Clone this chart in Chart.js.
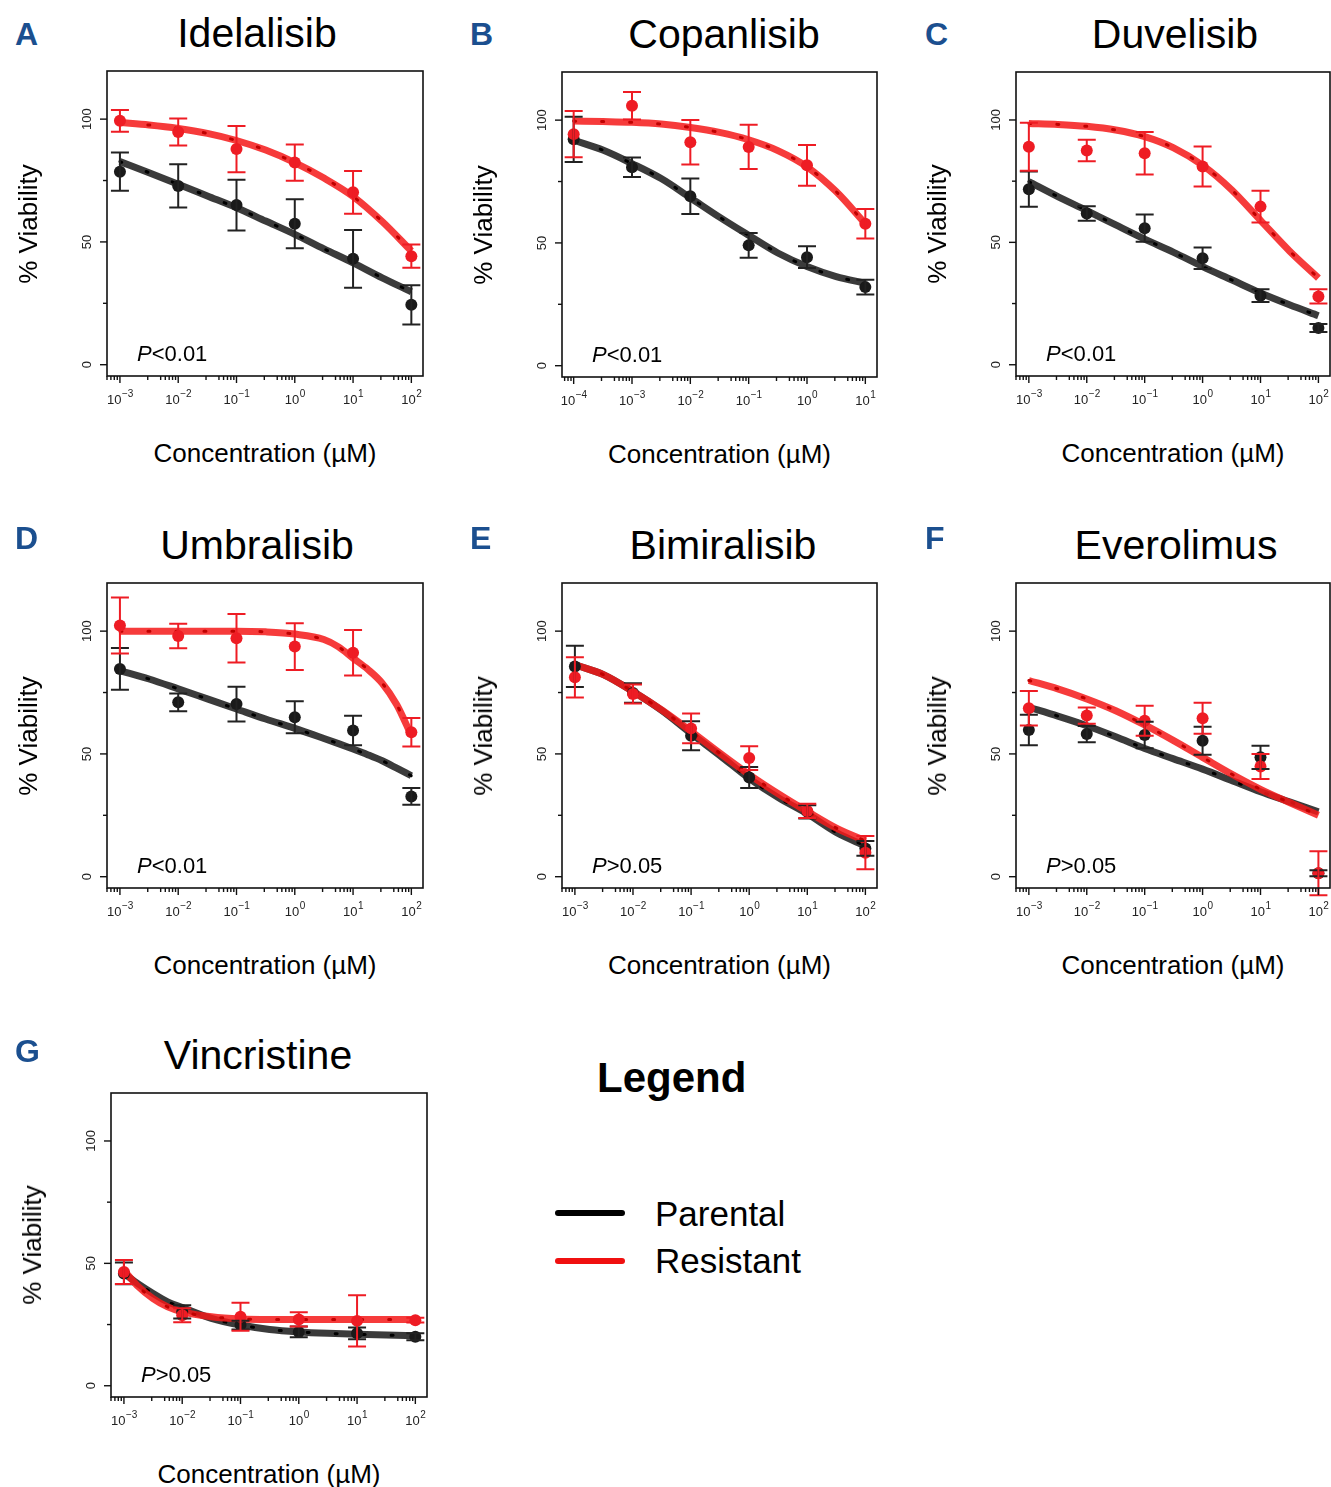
<!DOCTYPE html>
<html>
<head>
<meta charset="utf-8">
<script src="https://cdn.jsdelivr.net/npm/chart.js@4/dist/chart.umd.min.js"></script>
<style>
  body { margin: 0; width: 1331px; height: 1487px; overflow: hidden; background: #fff; position: relative;
         font-family: "Liberation Sans", Arial, sans-serif; color: #000; }
  canvas { position: absolute; }
  .t { position: absolute; white-space: nowrap; line-height: 1; }
</style>
</head>
<body>
<script>
// ---- data ----
const concStd = [0.001, 0.01, 0.1, 1, 10, 100];
const concB = [0.0001, 0.001, 0.01, 0.1, 1, 10];
const decStd = [-3, -2, -1, 0, 1, 2];
const decB = [-4, -3, -2, -1, 0, 1];
const minorMult = [3, 5, 6, 7, 8, 9];
const yTicks = [0, 25, 50, 75, 100];
const yLabels = ['0', '', '50', '', '100'];

const fitExp = [-3, -2.5, -2, -1.5, -1, -0.5, 0, 0.5, 1, 1.5, 2];
const fitExpB = [-4, -3.5, -3, -2.5, -2, -1.5, -1, -0.5, 0, 0.5, 1];
const fitExpD = [-3, -2.5, -2, -1.5, -1, -0.5, 0, 0.5, 0.75, 1, 1.25, 1.5, 1.75, 2];
const fitExpG = [-3, -2.75, -2.5, -2.25, -2, -1.5, -1, -0.5, 0, 0.5, 1, 1.5, 2];

// A Idelalisib
const parA = [78.6, 72.8, 65.0, 57.4, 43.1, 24.4];
const parErrA = [7.8, 8.8, 10.3, 10.0, 11.8, 8.0];
const resA = [99.3, 94.8, 87.8, 82.3, 70.2, 44.2];
const resErrA = [4.4, 5.5, 9.4, 7.4, 8.7, 4.7];
const fitParA = [82.7, 78.2, 73.5, 68.7, 63.9, 58.5, 53.1, 47.2, 41.5, 35.4, 29.7];
const fitResA = [98.6, 97.6, 96.2, 94.2, 91.3, 87.4, 82.3, 76.0, 68.5, 58.3, 46.3];

// B Copanlisib
const parB = [92.2, 80.8, 69.0, 49.0, 44.2, 32.0];
const parErrB = [9.2, 4.0, 7.2, 5.0, 4.4, 3.0];
const resB = [94.3, 105.9, 91.0, 89.1, 81.6, 57.8];
const resErrB = [9.4, 5.6, 9.1, 9.0, 8.3, 6.0];
const fitParB = [91.8, 87.8, 82.3, 76.2, 68.4, 60.5, 53.1, 45.9, 40.4, 36.3, 33.6];
const fitResB = [99.6, 99.4, 99.1, 98.4, 97.0, 95.0, 92.0, 87.6, 81.0, 70.9, 57.8];

// C Duvelisib
const parC = [71.7, 61.8, 55.8, 43.5, 28.2, 15.0];
const parErrC = [7.2, 3.0, 5.6, 4.4, 2.6, 1.6];
const resC = [89.1, 87.5, 86.4, 81.0, 64.6, 27.9];
const resErrC = [9.8, 4.4, 8.7, 8.2, 6.5, 2.9];
const fitParC = [74.8, 68.7, 63.0, 57.1, 51.3, 45.9, 40.1, 34.7, 29.3, 24.5, 20.0];
const fitResC = [98.6, 98.2, 97.4, 95.9, 93.2, 88.6, 81.5, 71.5, 59.0, 46.5, 35.4];

// D Umbralisib
const parD = [84.6, 71.0, 70.3, 64.9, 59.5, 32.7];
const parErrD = [8.5, 3.6, 7.1, 6.5, 6.0, 3.4];
const resD = [102.3, 98.0, 97.1, 93.7, 91.2, 58.8];
const resErrD = [11.4, 5.0, 9.9, 9.5, 9.3, 5.8];
const fitParD = [83.9, 80.5, 76.5, 72.4, 68.3, 64.2, 60.4, 56.3, 54.2, 52.0, 49.7, 47.2, 44.2, 41.1];
const fitResD = [100, 100, 100, 100, 100, 99.7, 98.8, 96.6, 93.6, 89.0, 84.5, 78.8, 70.0, 57.5];

// E Bimiralisib
const parE = [85.6, 74.8, 57.4, 40.4, 26.4, 11.5];
const parErrE = [8.4, 4.0, 5.9, 4.3, 2.7, 3.0];
const resE = [81.2, 74.4, 60.4, 48.3, 26.8, 9.8];
const resErrE = [8.2, 3.9, 6.1, 4.8, 2.9, 6.8];
const fitParE = [86.3, 82.2, 75.4, 67.6, 58.3, 49.3, 40.0, 32.2, 25.6, 18.0, 12.5];
const fitResE = [86.3, 82.2, 75.4, 67.8, 59.2, 50.2, 41.6, 33.8, 26.6, 19.8, 14.6];

// F Everolimus
const parF = [59.7, 58.1, 57.7, 55.4, 48.6, 1.4];
const parErrF = [6.2, 3.3, 5.4, 5.7, 4.7, 1.2];
const resF = [68.6, 65.6, 63.5, 64.5, 44.9, 1.4];
const resErrF = [7.0, 3.3, 6.1, 6.3, 5.1, 9.0];
const fitParF = [69.0, 65.4, 61.5, 57.0, 52.2, 48.0, 43.8, 39.2, 34.6, 30.5, 26.4];
const fitResF = [79.9, 76.5, 72.4, 67.6, 61.8, 55.4, 48.6, 41.8, 35.6, 30.2, 25.0];

// G Vincristine
const parG = [45.9, 30.2, 24.8, 22.0, 21.4, 20.0];
const parErrG = [4.4, 2.7, 1.8, 2.2, 2.4, 1.4];
const resG = [46.5, 28.8, 28.2, 27.1, 26.5, 26.8];
const resErrG = [4.9, 2.9, 5.7, 2.9, 10.5, 1.0];
const fitParG = [45.9, 41.5, 37.7, 34.3, 32.0, 27.5, 24.8, 23.0, 22.0, 21.4, 21.0, 20.7, 20.4];
const fitResG = [47.2, 40.4, 35.6, 32.2, 30.2, 28.2, 27.3, 27.1, 27.1, 27.1, 27.1, 27.1, 27.1];

// ---- layout ----
const panels = [
  { tag: 'A', name: 'Idelalisib', p: '<0.01', box: [107, 71, 423, 376], titleX: 257, letter: [15, 45],
    conc: concStd, dec: decStd, fx: fitExp, par: parA, parErr: parErrA, res: resA, resErr: resErrA, fitPar: fitParA, fitRes: fitResA },
  { tag: 'B', name: 'Copanlisib', p: '<0.01', box: [562, 72, 877, 377], titleX: 724, letter: [470, 45],
    conc: concB, dec: decB, fx: fitExpB, par: parB, parErr: parErrB, res: resB, resErr: resErrB, fitPar: fitParB, fitRes: fitResB },
  { tag: 'C', name: 'Duvelisib', p: '<0.01', box: [1016, 72, 1330, 376], titleX: 1175, letter: [925, 45],
    conc: concStd, dec: decStd, fx: fitExp, par: parC, parErr: parErrC, res: resC, resErr: resErrC, fitPar: fitParC, fitRes: fitResC },
  { tag: 'D', name: 'Umbralisib', p: '<0.01', box: [107, 583, 423, 888], titleX: 257, letter: [15, 549],
    conc: concStd, dec: decStd, fx: fitExpD, par: parD, parErr: parErrD, res: resD, resErr: resErrD, fitPar: fitParD, fitRes: fitResD },
  { tag: 'E', name: 'Bimiralisib', p: '>0.05', box: [562, 583, 877, 888], titleX: 723, letter: [470, 549],
    conc: concStd, dec: decStd, fx: fitExp, par: parE, parErr: parErrE, res: resE, resErr: resErrE, fitPar: fitParE, fitRes: fitResE },
  { tag: 'F', name: 'Everolimus', p: '>0.05', box: [1016, 583, 1330, 888], titleX: 1176, letter: [925, 549],
    conc: concStd, dec: decStd, fx: fitExp, par: parF, parErr: parErrF, res: resF, resErr: resErrF, fitPar: fitParF, fitRes: fitResF },
  { tag: 'G', name: 'Vincristine', p: '>0.05', box: [111, 1093, 427, 1397], titleX: 258, letter: [15, 1062],
    conc: concStd, dec: decStd, fx: fitExpG, par: parG, parErr: parErrG, res: resG, resErr: resErrG, fitPar: fitParG, fitRes: fitResG }
];

const RED = '#ee1c24';
const BLACK = '#1a1a1a';
const FONT = '"Liberation Sans", Arial, sans-serif';

// R-style box, ticks and error bars
const rAxes = {
  id: 'rAxes',
  afterDatasetsDraw(chart, args, opts) {
    const { ctx, scales: { x, y } } = chart;
    ctx.save();
    ctx.lineWidth = 2;
    opts.bars.forEach(b => {
      ctx.strokeStyle = b.color;
      b.xs.forEach((xv, i) => {
        const px = x.getPixelForValue(xv);
        const y1 = y.getPixelForValue(b.ys[i] + b.errs[i]);
        const y2 = y.getPixelForValue(b.ys[i] - b.errs[i]);
        ctx.beginPath();
        ctx.moveTo(px, y1); ctx.lineTo(px, y2);
        ctx.moveTo(px - 9, y1); ctx.lineTo(px + 9, y1);
        ctx.moveTo(px - 9, y2); ctx.lineTo(px + 9, y2);
        ctx.stroke();
      });
    });
    ctx.restore();
  },
  afterDraw(chart, args, opts) {
    const { ctx, chartArea: a, scales: { x, y } } = chart;
    ctx.save();
    ctx.strokeStyle = '#111';
    ctx.lineWidth = 1.6;
    ctx.strokeRect(a.left, a.top, a.right - a.left, a.bottom - a.top);
    ctx.lineWidth = 1.4;
    ctx.fillStyle = '#222';
    const lo = Math.floor(Math.log10(x.min)), hi = Math.ceil(Math.log10(x.max));
    for (let d = lo; d <= hi; d++) {
      [1].concat(opts.minor).forEach(m => {
        const v = m * Math.pow(10, d);
        if (v < x.min || v > x.max) return;
        const px = x.getPixelForValue(v);
        ctx.beginPath();
        ctx.moveTo(px, a.bottom);
        ctx.lineTo(px, a.bottom + (m === 1 ? 7 : 4));
        ctx.stroke();
      });
    }
    ctx.textAlign = 'left';
    ctx.textBaseline = 'alphabetic';
    opts.decades.forEach(d => {
      const px = x.getPixelForValue(Math.pow(10, d));
      const sup = d < 0 ? '\u2212' + (-d) : String(d);
      ctx.font = '13px ' + FONT;
      const w1 = ctx.measureText('10').width;
      ctx.font = '10px ' + FONT;
      const w2 = ctx.measureText(sup).width;
      const sx = px - (w1 + w2) / 2;
      ctx.font = '13px ' + FONT;
      ctx.fillText('10', sx, a.bottom + 28);
      ctx.font = '10px ' + FONT;
      ctx.fillText(sup, sx + w1 + 0.5, a.bottom + 21);
    });
    opts.yTicks.forEach((v, i) => {
      const py = y.getPixelForValue(v);
      const lab = opts.yLabels[i];
      ctx.beginPath();
      ctx.moveTo(a.left, py);
      ctx.lineTo(a.left - (lab ? 7 : 4), py);
      ctx.stroke();
      if (lab) {
        ctx.save();
        ctx.translate(a.left - 20, py);
        ctx.rotate(-Math.PI / 2);
        ctx.textAlign = 'center';
        ctx.textBaseline = 'middle';
        ctx.font = '13px ' + FONT;
        ctx.fillText(lab, 0, 0);
        ctx.restore();
      }
    });
    ctx.restore();
  }
};

function text(html, x, baseline, size, extra) {
  const d = document.createElement('div');
  d.className = 't';
  d.innerHTML = html;
  d.style.fontSize = size + 'px';
  d.style.left = x + 'px';
  d.style.top = (baseline - 0.8465 * size) + 'px';
  Object.assign(d.style, extra || {});
  document.body.appendChild(d);
  return d;
}

const pts = (xs, ys) => xs.map((v, i) => ({ x: v, y: ys[i] }));
const fit = (es, ys) => es.map((e, i) => ({ x: Math.pow(10, e), y: ys[i] }));

panels.forEach(p => {
  const [l, t, r, b] = p.box;
  const cv = document.createElement('canvas');
  cv.width = r - l + 80;
  cv.height = b - t + 50;
  cv.style.left = (l - 70) + 'px';
  cv.style.top = (t - 10) + 'px';
  document.body.appendChild(cv);

  const lo = p.dec[0], hi = p.dec[p.dec.length - 1];
  const curve = (data, color, w, order, dash) => ({
    type: 'scatter', data, showLine: true, pointRadius: 0, borderColor: color, borderWidth: w,
    cubicInterpolationMode: 'monotone', borderDash: dash || [], borderCapStyle: dash ? 'round' : 'butt', order
  });

  new Chart(cv, {
    type: 'scatter',
    data: {
      datasets: [
        { data: pts(p.conc, p.res), backgroundColor: RED, pointRadius: 6, pointBorderWidth: 0, order: 1 },
        { data: pts(p.conc, p.par), backgroundColor: BLACK, pointRadius: 6, pointBorderWidth: 0, order: 2 },
        curve(fit(p.fx, p.fitRes), '#c00000', 3, 3, [2, 26]),
        curve(fit(p.fx, p.fitRes), 'rgba(245,25,25,0.85)', 7, 4),
        curve(fit(p.fx, p.fitPar), '#000', 3, 5, [2, 26]),
        curve(fit(p.fx, p.fitPar), 'rgba(25,25,25,0.85)', 7, 6)
      ]
    },
    options: {
      responsive: false,
      animation: false,
      devicePixelRatio: 1,
      events: [],
      layout: { padding: { left: 70, top: 10, right: 10, bottom: 40 } },
      scales: {
        x: { type: 'logarithmic', min: Math.pow(10, lo - 0.2), max: Math.pow(10, hi + 0.2), display: false },
        y: { type: 'linear', min: -4.6, max: 119.6, display: false }
      },
      plugins: {
        legend: { display: false },
        tooltip: { enabled: false },
        rAxes: {
          decades: p.dec, minor: minorMult, yTicks, yLabels,
          bars: [
            { xs: p.conc, ys: p.par, errs: p.parErr, color: '#222' },
            { xs: p.conc, ys: p.res, errs: p.resErr, color: RED }
          ]
        }
      }
    },
    plugins: [rAxes]
  });

  text(p.name, p.titleX, t - 23, 41, { transform: 'translateX(-50%)' });
  text(p.tag, p.letter[0], p.letter[1], 32, { fontWeight: 'bold', color: '#1b4f8f' });
  text('<i>P</i>' + p.p.replace('<', '&lt;').replace('>', '&gt;'), l + 30, b - 14, 22);
  text('Concentration (\u00b5M)', (l + r) / 2, b + 86, 26, { transform: 'translateX(-50%)' });
  const yl = text('% Viability', l - 79, (t + b) / 2, 26, {});
  yl.style.top = (t + b) / 2 + 'px';
  yl.style.transform = 'translate(-50%, -50%) rotate(-90deg)';
});

// legend
text('Legend', 597, 1093, 42, { fontWeight: 'bold' });
const legendNames = ['Parental', 'Resistant'];
const legendColors = ['#000', '#f01010'];
legendNames.forEach((n, i) => {
  const line = document.createElement('div');
  Object.assign(line.style, { position: 'absolute', left: '555px', top: (1210 + i * 48) + 'px', width: '70px',
    height: '6px', borderRadius: '3px', background: legendColors[i] });
  document.body.appendChild(line);
  text(n, 655, 1226 + i * 47, 35);
});
</script>
</body>
</html>
